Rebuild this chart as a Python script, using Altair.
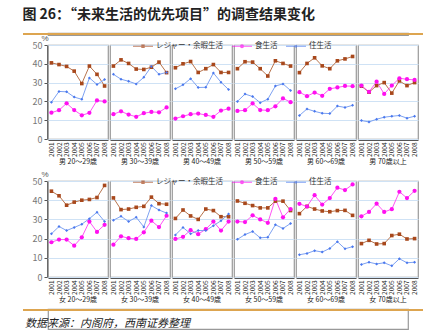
import altair as alt
import pandas as pd

years = ["2001", "2002", "2003", "2004", "2005", "2006", "2007", "2008"]
series = ["レジャー・余暇生活", "食生活", "住生活"]
male_groups = ["男 20～29歳", "男 30～39歳", "男 40～49歳", "男 50～59歳", "男 60～69歳", "男 70歳以上"]
female_groups = ["女 20～29歳", "女 30～39歳", "女 40～49歳", "女 50～59歳", "女 60～69歳", "女 70歳以上"]

male_leisure = [
    [40.5, 39.6, 38.6, 36.1, 29.5, 38.8, 34.4, 28.2],
    [38.8, 42.1, 40.2, 37.2, 37.0, 38.2, 40.9, 35.3],
    [37.9, 40.0, 41.2, 35.4, 37.4, 39.6, 35.4, 35.4],
    [37.4, 41.1, 40.9, 37.4, 33.5, 41.6, 40.2, 38.8],
    [35.3, 40.2, 43.2, 38.9, 37.4, 41.6, 42.6, 43.9],
    [28.1, 24.9, 28.4, 30.0, 24.4, 30.9, 28.4, 30.0],
]
male_food = [
    [14.0, 15.3, 19.0, 15.4, 12.6, 13.9, 20.5, 20.0],
    [13.2, 14.7, 13.0, 11.8, 13.7, 14.4, 14.2, 16.8],
    [10.9, 12.1, 13.2, 13.5, 12.8, 11.8, 15.1, 16.1],
    [14.9, 15.3, 18.9, 15.4, 15.3, 17.4, 21.6, 19.6],
    [24.9, 22.8, 24.7, 23.0, 26.7, 27.4, 28.2, 28.1],
    [28.4, 25.1, 30.5, 24.0, 28.4, 32.3, 31.8, 31.4],
]
male_housing = [
    [19.6, 25.3, 25.1, 22.3, 21.1, 32.5, 29.0, 31.6],
    [34.4, 31.8, 30.7, 29.3, 32.8, 38.6, 34.4, 35.4],
    [26.7, 28.8, 32.1, 27.4, 27.5, 35.1, 30.2, 26.3],
    [20.0, 23.9, 22.6, 19.3, 21.2, 28.2, 29.3, 25.8],
    [12.5, 16.0, 14.7, 13.7, 13.5, 17.5, 16.8, 17.9],
    [9.8, 9.1, 10.5, 11.6, 12.1, 12.5, 11.1, 12.1],
]
female_leisure = [
    [44.7, 42.3, 37.4, 39.0, 40.0, 40.4, 41.4, 47.7],
    [41.2, 35.1, 35.4, 36.3, 36.8, 41.6, 38.2, 37.9],
    [30.5, 34.9, 31.8, 30.0, 35.4, 34.6, 31.4, 31.4],
    [39.6, 38.4, 37.2, 36.0, 36.0, 39.5, 39.5, 34.6],
    [33.0, 36.8, 35.4, 34.4, 34.0, 34.6, 34.7, 32.1],
    [17.4, 19.1, 17.2, 17.4, 21.6, 22.3, 19.8, 20.0],
]
female_food = [
    [18.1, 19.5, 19.5, 16.3, 20.7, 28.9, 23.5, 27.2],
    [16.8, 21.2, 20.2, 19.8, 23.3, 29.3, 26.0, 31.9],
    [19.8, 20.9, 24.4, 22.3, 24.9, 28.9, 24.2, 28.9],
    [28.9, 28.6, 32.1, 30.0, 28.2, 40.7, 31.1, 35.4],
    [38.1, 36.7, 42.6, 37.7, 41.1, 46.5, 45.3, 48.2],
    [31.6, 33.9, 38.2, 33.9, 35.3, 44.4, 41.1, 44.9],
]
female_housing = [
    [22.5, 26.3, 24.2, 25.8, 27.5, 30.4, 33.7, 28.9],
    [29.6, 31.6, 28.9, 31.1, 26.1, 37.2, 34.9, 33.3],
    [21.9, 25.8, 22.5, 24.2, 24.2, 26.7, 29.3, 32.8],
    [19.6, 22.1, 23.7, 20.4, 20.7, 27.2, 25.3, 27.9],
    [11.6, 12.3, 13.7, 13.0, 14.9, 18.4, 14.7, 15.8],
    [6.5, 7.7, 6.8, 7.4, 5.8, 9.5, 7.4, 7.7],
]

title_text = "图 26：“未来生活的优先项目”的调查结果变化"
source_text = ["数据来源：内阁府，西南证券整理"]

colors = ["#A8481C", "#FF10F0", "#4A78EE"]
line_colors = ["#B8744E", "#FF55F5", "#7EA2F2"]
legend_paths = [
    "M-1,-0.05H1V0.05H-1Z M-0.17,-0.17H0.17V0.17H-0.17Z",
    "M-1,-0.05H1V0.05H-1Z M0.2,0A0.2,0.2 0 1,1 -0.2,0A0.2,0.2 0 1,1 0.2,0Z",
    "M-1,-0.05H1V0.05H-1Z M0,-0.17L0.17,0L0,0.17L-0.17,0Z",
]
FONT = "Noto Sans CJK JP"
ORANGE = "#DDA550"


def block(groups, leisure, food, housing, height):
    rows = []
    for gi, g in enumerate(groups):
        for s, arr in zip(series, [leisure, food, housing]):
            for yi, yr in enumerate(years):
                rows.append({"group": g, "series": s, "year": yr, "value": arr[gi][yi]})
    df = pd.DataFrame(rows)
    x = alt.X("year:O", title=None, scale=alt.Scale(type="point", padding=0.45),
              axis=alt.Axis(labelAngle=270, labelFontSize=6.5, labelPadding=2, ticks=False,
                            domainColor="#555", labelColor="#222", labelFont=FONT))
    y = alt.Y("value:Q", title="%", scale=alt.Scale(domain=[0, 50], nice=False),
              axis=alt.Axis(values=[0, 10, 20, 30, 40, 50], titleAngle=0, titleAlign="left",
                            titleBaseline="bottom", titleX=-6, titleY=-3, titleFontSize=8,
                            titleFontWeight="normal", titleColor="#555", labelColor="#777",
                            labelFontSize=9, gridColor="#CFE2F5", domainColor="#555",
                            tickColor="#555", tickSize=3))
    layers = []
    for s, lc in zip(series, line_colors):
        layers.append(alt.Chart().mark_line(strokeWidth=1, color=lc).encode(
            x=x, y=y).transform_filter(alt.datum.series == s))
    for s, c, shp, sz in zip(series, colors, ["square", "circle", "diamond"], [13, 18, 9]):
        layers.append(alt.Chart().mark_point(filled=True, shape=shp, size=sz, opacity=1, color=c).encode(
            x=x, y=y).transform_filter(alt.datum.series == s))
    leg_props = dict(orient="none", legendX=85, legendY=-9, direction="horizontal", title=None,
                     symbolSize=400, labelFontSize=7.5, labelFont=FONT, labelColor="#333",
                     symbolStrokeWidth=0, columnPadding=8, labelOffset=3)
    leg = alt.Chart().mark_point(filled=True).encode(
        x=x, y=y,
        color=alt.Color("series:N", scale=alt.Scale(domain=series, range=colors),
                        legend=alt.Legend(**leg_props)),
        shape=alt.Shape("series:N", scale=alt.Scale(domain=series, range=legend_paths),
                        legend=alt.Legend(**leg_props)),
    ).transform_filter("false")
    layer = alt.layer(*layers, leg, data=df).properties(width=60, height=height)
    return layer.facet(
        column=alt.Column("group:N", sort=groups, title=None,
                          header=alt.Header(labelOrient="bottom", labelFontSize=7, labelPadding=2,
                                            labelFont=FONT, labelColor="#222")),
        spacing=0,
    )


top = block(male_groups, male_leisure, male_food, male_housing, 94)
bottom = block(female_groups, female_leisure, female_food, female_housing, 96)

rule_df = pd.DataFrame({"t": source_text})
head = alt.Chart(rule_df).mark_rect(color=ORANGE).encode(
    x=alt.value(-25), x2=alt.value(375), y=alt.value(0), y2=alt.value(2)
).properties(width=360, height=2)
foot = alt.layer(
    alt.Chart(rule_df).mark_rect(color=ORANGE).encode(
        x=alt.value(-25), x2=alt.value(375), y=alt.value(0), y2=alt.value(2)),
    alt.Chart(rule_df).mark_text(align="left", baseline="middle", font="Noto Sans CJK SC",
                                 fontSize=11, fontStyle="italic", color="#222").encode(
        x=alt.value(-23), y=alt.value(15), text="t:N"),
).properties(width=360, height=20)

mid = alt.vconcat(top, bottom, spacing=4).resolve_legend(color="independent", shape="independent")
upper = alt.vconcat(head, mid, spacing=-2)

chart = alt.vconcat(upper, foot, spacing=4).properties(
    title=alt.TitleParams(title_text, anchor="start", font="Noto Sans CJK SC", fontSize=14,
                          fontWeight="bold", color="#222", offset=10),
    padding={"left": 22, "top": 8, "right": 5, "bottom": 2},
).configure_view(stroke="#999", strokeWidth=1.2).configure_axis(labelFont=FONT)

chart.save("out.html", embed_options={"renderer": "svg", "actions": False})
